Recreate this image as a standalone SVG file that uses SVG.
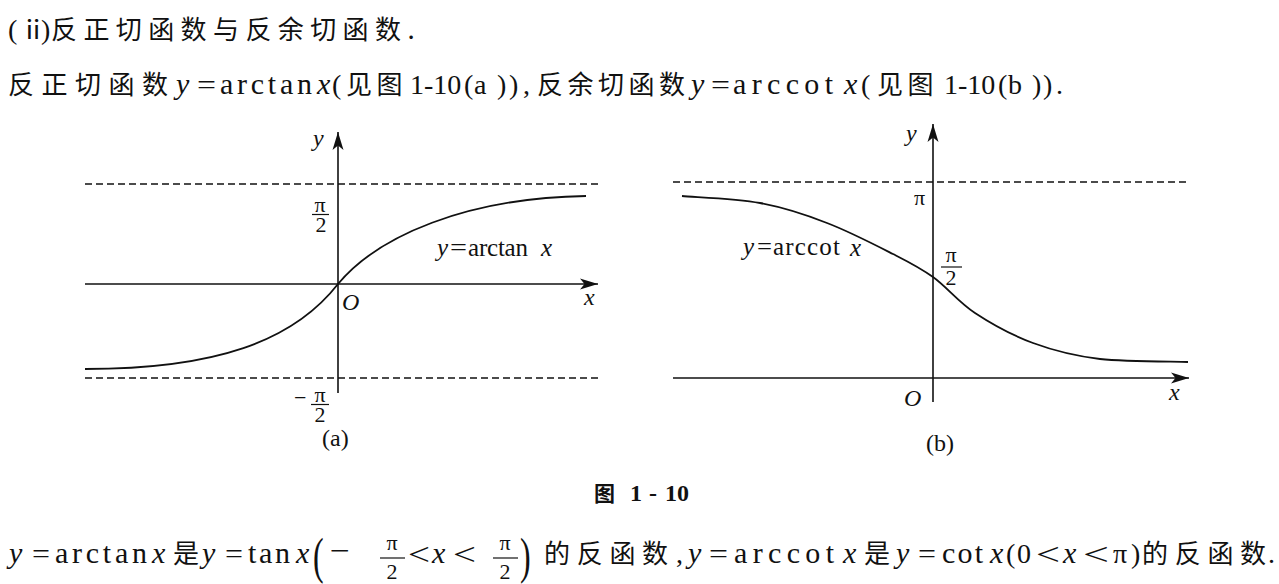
<svg xmlns="http://www.w3.org/2000/svg" width="1279" height="584" viewBox="0 0 1279 584">
<style>
text{font-family:"Liberation Serif","Times New Roman",serif;fill:#111}
.c{font-family:"Noto Sans CJK SC","Noto Sans CJK JP",sans-serif}
.i{font-style:italic}
.b{font-weight:700}
.z21{font-size:21px}
.z22{font-size:22px}
.z24{font-size:24px}
.z25{font-size:25px}
.z26{font-size:26px}
.z28{font-size:28px}
.z30{font-size:30px}
.z32{font-size:32px}
.axis{stroke:#111;stroke-width:1.6;fill:none}
.dash{stroke:#111;stroke-width:1.3;stroke-dasharray:7 4;fill:none}
.curve{stroke:#111;stroke-width:1.8;fill:none}
.bar{stroke:#111;stroke-width:1.2}
</style>
<defs>
<marker id="arr" markerUnits="userSpaceOnUse" markerWidth="20" markerHeight="12" refX="18" refY="6" orient="auto" viewBox="0 0 20 12">
<path d="M0,0.5 L18,6 L0,11.5 L4.5,6 Z" fill="#111"/>
</marker>
</defs>
<rect width="1279" height="584" fill="#fff"/>

<g id="line1">
<text class="z28" x="8" y="39">(</text>
<text class="z26" x="20" y="39" style="font-family:'Liberation Serif','Noto Sans CJK SC',serif">ⅱ</text>
<text class="z28" x="41" y="39">)</text>
<text class="c z26" x="51" y="39" letter-spacing="6.4">反正切函数与反余切函数.</text>
</g>

<g id="line2">
<text class="c z26" x="8" y="94" letter-spacing="7.5">反正切函数</text>
<text class="z30 i" x="176" y="94">y</text>
<text class="z28" x="197" y="94" textLength="19" lengthAdjust="spacingAndGlyphs">=</text>
<text class="z30" x="220" y="94" textLength="92">arctan</text>
<text class="z30 i" x="317" y="94">x</text>
<text class="z28" x="332" y="94">(</text>
<text class="c z26" x="346" y="94" letter-spacing="4.5">见图</text>
<text class="z28" x="410" y="94">1-10</text>
<text class="z28" x="464" y="94">(</text>
<text class="z28" x="474" y="94">a</text>
<text class="z28" x="497" y="94">)</text>
<text class="z28" x="509" y="94">)</text>
<text class="z28" x="523" y="94">,</text>
<text class="c z26" x="537" y="94" letter-spacing="4.5">反余切函数</text>
<text class="z30 i" x="691" y="94">y</text>
<text class="z28" x="711" y="94" textLength="19" lengthAdjust="spacingAndGlyphs">=</text>
<text class="z30" x="733" y="94" textLength="100">arccot</text>
<text class="z30 i" x="844" y="94">x</text>
<text class="z28" x="861" y="94">(</text>
<text class="c z26" x="877" y="94" letter-spacing="4.5">见图</text>
<text class="z28" x="944" y="94">1-10</text>
<text class="z28" x="998" y="94">(</text>
<text class="z28" x="1008" y="94">b</text>
<text class="z28" x="1032" y="94">)</text>
<text class="z28" x="1043" y="94">)</text>
<text class="z28" x="1056" y="94">.</text>
</g>

<g id="graph-a">
<line class="dash" x1="85" y1="184" x2="600" y2="184"/>
<line class="dash" x1="85" y1="378" x2="600" y2="378"/>
<line class="axis" x1="85" y1="284" x2="598" y2="284" marker-end="url(#arr)"/>
<line class="axis" x1="338" y1="393" x2="338" y2="132" marker-end="url(#arr)"/>
<path class="curve" d="M338,284 C378,236 466,198 586,196"/>
<path class="curve" d="M338,284 C293,341.6 215,369 85,369"/>
<text class="z24 i" x="313" y="146">y</text>
<text class="z24 i" x="584" y="305">x</text>
<text class="z24 i" x="342" y="310">O</text>
<text class="z22" x="320" y="212" text-anchor="middle">π</text>
<line class="bar" x1="312" y1="214.5" x2="329" y2="214.5"/>
<text class="z22" x="321" y="232" text-anchor="middle">2</text>
<text class="z22" x="294" y="405">−</text>
<text class="z22" x="320" y="402" text-anchor="middle">π</text>
<line class="bar" x1="311" y1="404.5" x2="329" y2="404.5"/>
<text class="z22" x="320" y="422" text-anchor="middle">2</text>
<text class="z25 i" x="437" y="256">y</text>
<text class="z25" x="450" y="256" textLength="17" lengthAdjust="spacingAndGlyphs">=</text>
<text class="z25" x="468" y="256" textLength="60">arctan</text>
<text class="z25 i" x="541" y="256">x</text>
<text class="z24" x="322" y="446">(a)</text>
</g>

<g id="graph-b">
<line class="dash" x1="673" y1="182" x2="1189" y2="182"/>
<line class="axis" x1="673" y1="378" x2="1189" y2="378" marker-end="url(#arr)"/>
<line class="axis" x1="933" y1="402" x2="933" y2="124" marker-end="url(#arr)"/>
<path class="curve" d="M682,196 C695,197.2 735.8,198.5 760,203 C784.2,207.5 804.8,214.2 827,223 C849.2,231.5 875.3,245 893,254 C910.7,263 919.3,267.2 933,277 C946.7,286.8 958.3,302 975,313 C991.7,324 1012.2,335.3 1033,343 C1053.8,350.7 1074.2,355.8 1100,359 C1125.8,361.8 1173.3,361.5 1188,362"/>
<text class="z24 i" x="906" y="141">y</text>
<text class="z24 i" x="1169" y="400">x</text>
<text class="z24 i" x="904" y="406">O</text>
<text class="z22" x="919.5" y="205" text-anchor="middle">π</text>
<text class="z22" x="951" y="262" text-anchor="middle">π</text>
<line class="bar" x1="941" y1="267" x2="962" y2="267"/>
<text class="z22" x="951" y="285" text-anchor="middle">2</text>
<text class="z25 i" x="743" y="255">y</text>
<text class="z25" x="757" y="255" textLength="15" lengthAdjust="spacingAndGlyphs">=</text>
<text class="z25" x="773" y="255" textLength="67">arccot</text>
<text class="z25 i" x="850" y="256">x</text>
<text class="z24" x="926" y="451">(b)</text>
</g>

<g id="caption">
<text class="c z21 b" x="594" y="501">图</text>
<text class="z24 b" x="630" y="501">1</text>
<text class="z24 b" x="649" y="501">-</text>
<text class="z24 b" x="665" y="501">10</text>
</g>

<g id="line3">
<text class="z30 i" x="9" y="563">y</text>
<text class="z28" x="32" y="563" textLength="18" lengthAdjust="spacingAndGlyphs">=</text>
<text class="z30" x="55" y="563" textLength="92">arctan</text>
<text class="z30 i" x="152" y="563">x</text>
<text class="c z26" x="173" y="563">是</text>
<text class="z30 i" x="202" y="563">y</text>
<text class="z28" x="225" y="563" textLength="18" lengthAdjust="spacingAndGlyphs">=</text>
<text class="z30" x="248" y="563" textLength="42">tan</text>
<text class="z30 i" x="296" y="563">x</text>
<text class="z32" transform="translate(313,573) scale(1,1.6)">(</text>
<text class="z28" x="330" y="560" textLength="20" lengthAdjust="spacingAndGlyphs">−</text>
<text class="z22" x="392" y="550" text-anchor="middle">π</text>
<line class="bar" x1="380" y1="558" x2="405" y2="558"/>
<text class="z22" x="392" y="579" text-anchor="middle">2</text>
<text class="z32" x="408" y="565" textLength="22" lengthAdjust="spacingAndGlyphs">&lt;</text>
<text class="z30 i" x="432" y="563">x</text>
<text class="z32" x="453" y="565" textLength="23" lengthAdjust="spacingAndGlyphs">&lt;</text>
<text class="z22" x="505" y="550" text-anchor="middle">π</text>
<line class="bar" x1="493" y1="558" x2="518" y2="558"/>
<text class="z22" x="505" y="579" text-anchor="middle">2</text>
<text class="z32" transform="translate(520,573) scale(1,1.6)">)</text>
<text class="c z26" x="544" y="563" letter-spacing="6.7">的反函数</text>
<text class="z28" x="676" y="563">,</text>
<text class="z30 i" x="688" y="563">y</text>
<text class="z28" x="709" y="563" textLength="19" lengthAdjust="spacingAndGlyphs">=</text>
<text class="z30" x="734" y="563" textLength="100">arccot</text>
<text class="z30 i" x="843" y="563">x</text>
<text class="c z26" x="864" y="563">是</text>
<text class="z30 i" x="896" y="563">y</text>
<text class="z28" x="918" y="563" textLength="18" lengthAdjust="spacingAndGlyphs">=</text>
<text class="z30" x="942" y="563" textLength="41">cot</text>
<text class="z30 i" x="990" y="563">x</text>
<text class="z28" x="1006" y="563">(</text>
<text class="z28" x="1017" y="563">0</text>
<text class="z32" x="1036" y="565" textLength="24" lengthAdjust="spacingAndGlyphs">&lt;</text>
<text class="z30 i" x="1063" y="563">x</text>
<text class="z32" x="1083" y="565" textLength="26" lengthAdjust="spacingAndGlyphs">&lt;</text>
<text class="z28" x="1113" y="563">π</text>
<text class="z28" x="1131" y="563">)</text>
<text class="c z26" x="1142" y="563" letter-spacing="6.7">的反函数</text>
<text class="z28" x="1268" y="563">.</text>
</g>
</svg>
